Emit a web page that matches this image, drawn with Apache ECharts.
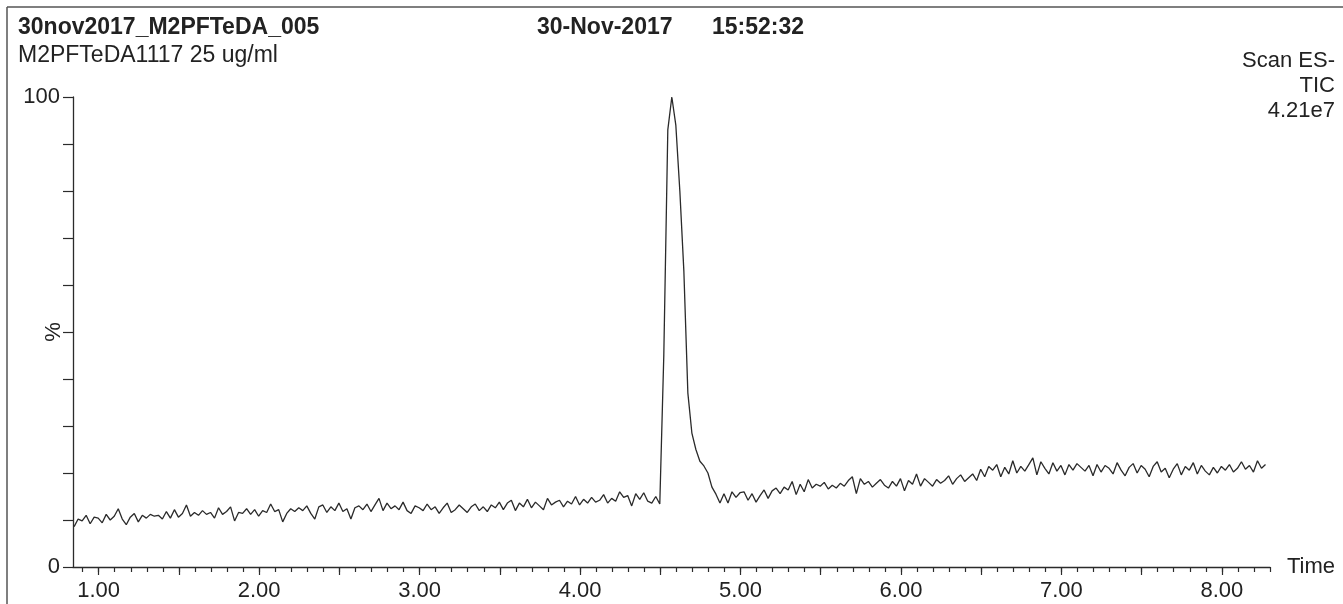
<!DOCTYPE html>
<html>
<head>
<meta charset="utf-8">
<script src="https://cdn.jsdelivr.net/npm/echarts@6/dist/echarts.min.js"></script>
<style>
  html, body { margin: 0; padding: 0; background: #ffffff; }
  #chart { width: 1343px; height: 604px; }
</style>
</head>
<body>
<div id="chart"></div>
<script>
// Total ion chromatogram, relative intensity (%) against retention time (min)
const runName = '30nov2017_M2PFTeDA_005';
const sampleName = 'M2PFTeDA1117 25 ug/ml';
const runDate = '30-Nov-2017';
const runTime = '15:52:32';
const scanInfo = ['Scan ES-', 'TIC', '4.21e7'];

// scans are evenly spaced in time
const scanStart = 0.847;
const scanStep = 0.025;

// baseline before the peak
const preValues = [
  8.6, 10.2, 9.8, 11.0, 9.2, 10.6, 10.4, 9.4, 11.2, 10.0,
  10.8, 12.4, 10.2, 9.0, 10.6, 11.4, 9.6, 11.0, 10.4, 11.2,
  10.8, 11.0, 10.2, 11.8, 10.4, 12.2, 10.6, 11.4, 13.2, 10.8,
  11.6, 11.0, 12.0, 11.2, 11.6, 10.4, 12.6, 11.2, 11.8, 12.8,
  9.8, 11.6, 11.4, 12.4, 11.2, 12.2, 10.8, 12.0, 11.6, 13.4,
  11.8, 12.2, 9.6, 11.4, 12.4, 11.8, 12.6, 12.0, 13.0, 11.4,
  10.2, 12.8, 13.2, 11.6, 12.8, 12.0, 13.6, 11.8, 12.4, 10.2,
  12.6, 13.0, 12.2, 13.4, 11.8, 13.2, 14.6, 12.0, 13.6, 12.4,
  13.0, 12.2, 13.8, 12.0, 11.4, 13.0, 12.6, 12.0, 13.4, 12.2,
  12.8, 11.4, 12.6, 13.6, 11.6, 12.2, 13.2, 12.4, 11.6, 12.8,
  13.4, 12.0, 12.8, 11.8, 13.2, 12.6, 13.8, 12.2, 13.6, 14.2,
  12.0, 13.6, 12.8, 14.4, 12.6, 13.8, 13.0, 12.2, 14.6, 13.2,
  13.8, 14.2, 12.8, 14.0, 13.4, 15.0, 13.2, 14.4, 13.6, 14.8,
  13.8, 14.2, 15.4, 13.6, 14.6, 14.0, 16.0, 14.8, 15.2, 13.0,
  15.6, 14.4, 15.8, 14.0, 13.6, 15.0
];

// the peak at 4.57 min
const peakValues = [
  13.4, 45, 93, 100, 94, 80, 63, 37, 28.5, 25, 22.5, 21.5, 20, 17, 15.5, 13.6
];

// baseline after the peak
const postValues = [
  15.6, 13.6, 16.0, 14.8, 15.8, 16.0, 14.2, 15.6, 13.8, 15.2,
  16.4, 14.6, 16.2, 16.8, 15.6, 17.0, 16.4, 18.2, 15.4, 17.6,
  16.0, 18.6, 16.8, 17.6, 17.2, 18.0, 16.6, 17.4, 16.8, 17.8,
  17.2, 18.4, 19.2, 15.6, 18.8, 17.6, 18.2, 17.0, 17.8, 18.6,
  17.4, 16.8, 18.2, 17.2, 18.8, 16.2, 18.4, 17.6, 19.8, 17.2,
  18.8, 18.0, 17.2, 18.6, 17.8, 18.4, 19.4, 17.6, 18.8, 19.6,
  18.2, 19.0, 19.8, 18.4, 20.8, 19.2, 21.4, 20.6, 21.8, 19.2,
  21.2, 19.8, 22.6, 20.0, 21.4, 20.4, 21.8, 23.2, 19.6, 22.4,
  21.0, 19.8, 22.2, 20.4, 21.6, 19.6, 21.8, 20.6, 22.0, 21.2,
  20.4, 21.6, 19.4, 21.8, 20.2, 21.6, 21.0, 19.8, 22.2, 20.6,
  19.4, 21.2, 22.0, 20.0, 21.6, 20.8, 19.2, 21.4, 22.4, 20.2,
  21.0, 19.0, 20.8, 22.0, 19.6, 21.4, 20.6, 22.2, 19.8, 21.6,
  20.4, 19.6, 21.2, 20.0, 21.4, 20.6, 21.8, 20.2, 21.0, 22.4,
  20.8, 21.6, 20.2, 22.6, 21.0, 21.8
];

// axis ranges and tick labels
const timeMin = 0.84;
const timeMax = 8.30;
const timeLabels = [1, 2, 3, 4, 5, 6, 7, 8];
const percentLabels = [0, 100];

const intensity = preValues.concat(peakValues, postValues);
const tic = intensity.map((v, i) => [scanStart + i * scanStep, v]);

const round1 = v => Math.round(v * 10) / 10;
const halfTicks = [];
for (let t = 1; t <= 8.001; t += 0.5) halfTicks.push(round1(t));
const tenthTicks = [];
for (let t = 0.9; t <= timeMax + 0.001; t += 0.1) tenthTicks.push(round1(t));

const FONT = "'Liberation Sans', Arial, Helvetica, sans-serif";
const INK = '#222222';
const AXIS = '#2b2b2b';

const chart = echarts.init(document.getElementById('chart'), null, { renderer: 'canvas' });

chart.setOption({
  animation: false,
  backgroundColor: '#ffffff',
  grid: { left: 73, right: 73, top: 97, bottom: 37, containLabel: false },
  xAxis: [
    {
      type: 'value',
      min: timeMin,
      max: timeMax,
      name: 'Time',
      nameLocation: 'end',
      nameGap: 17,
      nameTextStyle: { color: INK, fontSize: 22, fontFamily: FONT, verticalAlign: 'middle' },
      axisLine: { show: true, lineStyle: { color: AXIS, width: 1.3 } },
      axisTick: { show: true, inside: false, length: 8, customValues: halfTicks, lineStyle: { color: AXIS, width: 1.2 } },
      axisLabel: {
        show: true,
        customValues: timeLabels,
        margin: 13,
        color: INK,
        fontSize: 22,
        fontFamily: FONT,
        formatter: v => v.toFixed(2)
      },
      splitLine: { show: false }
    },
    {
      type: 'value',
      min: timeMin,
      max: timeMax,
      position: 'bottom',
      axisLine: { show: false },
      axisTick: { show: true, inside: false, length: 5, customValues: tenthTicks, lineStyle: { color: AXIS, width: 1.2 } },
      axisLabel: { show: false },
      splitLine: { show: false }
    }
  ],
  yAxis: {
    type: 'value',
    min: 0,
    max: 100,
    interval: 10,
    name: '%',
    nameLocation: 'middle',
    nameRotate: 90,
    nameGap: 8,
    nameMoveOverlap: false,
    nameTextStyle: { color: INK, fontSize: 22, fontFamily: FONT },
    axisLine: { show: true, lineStyle: { color: AXIS, width: 1.3 } },
    axisTick: { show: true, inside: false, length: 10, lineStyle: { color: AXIS, width: 1.2 } },
    axisLabel: {
      show: true,
      margin: 13,
      color: INK,
      fontSize: 22,
      fontFamily: FONT,
      formatter: v => (percentLabels.indexOf(v) >= 0 ? String(v) : '')
    },
    splitLine: { show: false }
  },
  series: [
    {
      type: 'line',
      xAxisIndex: 0,
      data: tic,
      showSymbol: false,
      symbol: 'none',
      sampling: null,
      lineStyle: { color: '#2a2a2a', width: 1.3 },
      z: 3
    }
  ],
  graphic: [
    // frame
    { type: 'line', shape: { x1: 7, y1: 7, x2: 1343, y2: 7 }, style: { stroke: '#555', lineWidth: 1.5 } },
    { type: 'line', shape: { x1: 7, y1: 7, x2: 7, y2: 604 }, style: { stroke: '#555', lineWidth: 1.5 } },
    // header
    { type: 'text', left: 18, top: 16, style: { text: runName, fill: INK, font: 'bold 23px ' + FONT } },
    { type: 'text', left: 18, top: 44, style: { text: sampleName, fill: INK, font: '23px ' + FONT } },
    { type: 'text', left: 537, top: 16, style: { text: runDate, fill: INK, font: 'bold 23px ' + FONT } },
    { type: 'text', left: 712, top: 16, style: { text: runTime, fill: INK, font: 'bold 23px ' + FONT } },
    { type: 'text', right: 8, top: 50, style: { text: scanInfo[0], fill: INK, font: '22px ' + FONT, align: 'right' } },
    { type: 'text', right: 8, top: 75, style: { text: scanInfo[1], fill: INK, font: '22px ' + FONT, align: 'right' } },
    { type: 'text', right: 8, top: 100, style: { text: scanInfo[2], fill: INK, font: '22px ' + FONT, align: 'right' } }
  ]
});
</script>
</body>
</html>
